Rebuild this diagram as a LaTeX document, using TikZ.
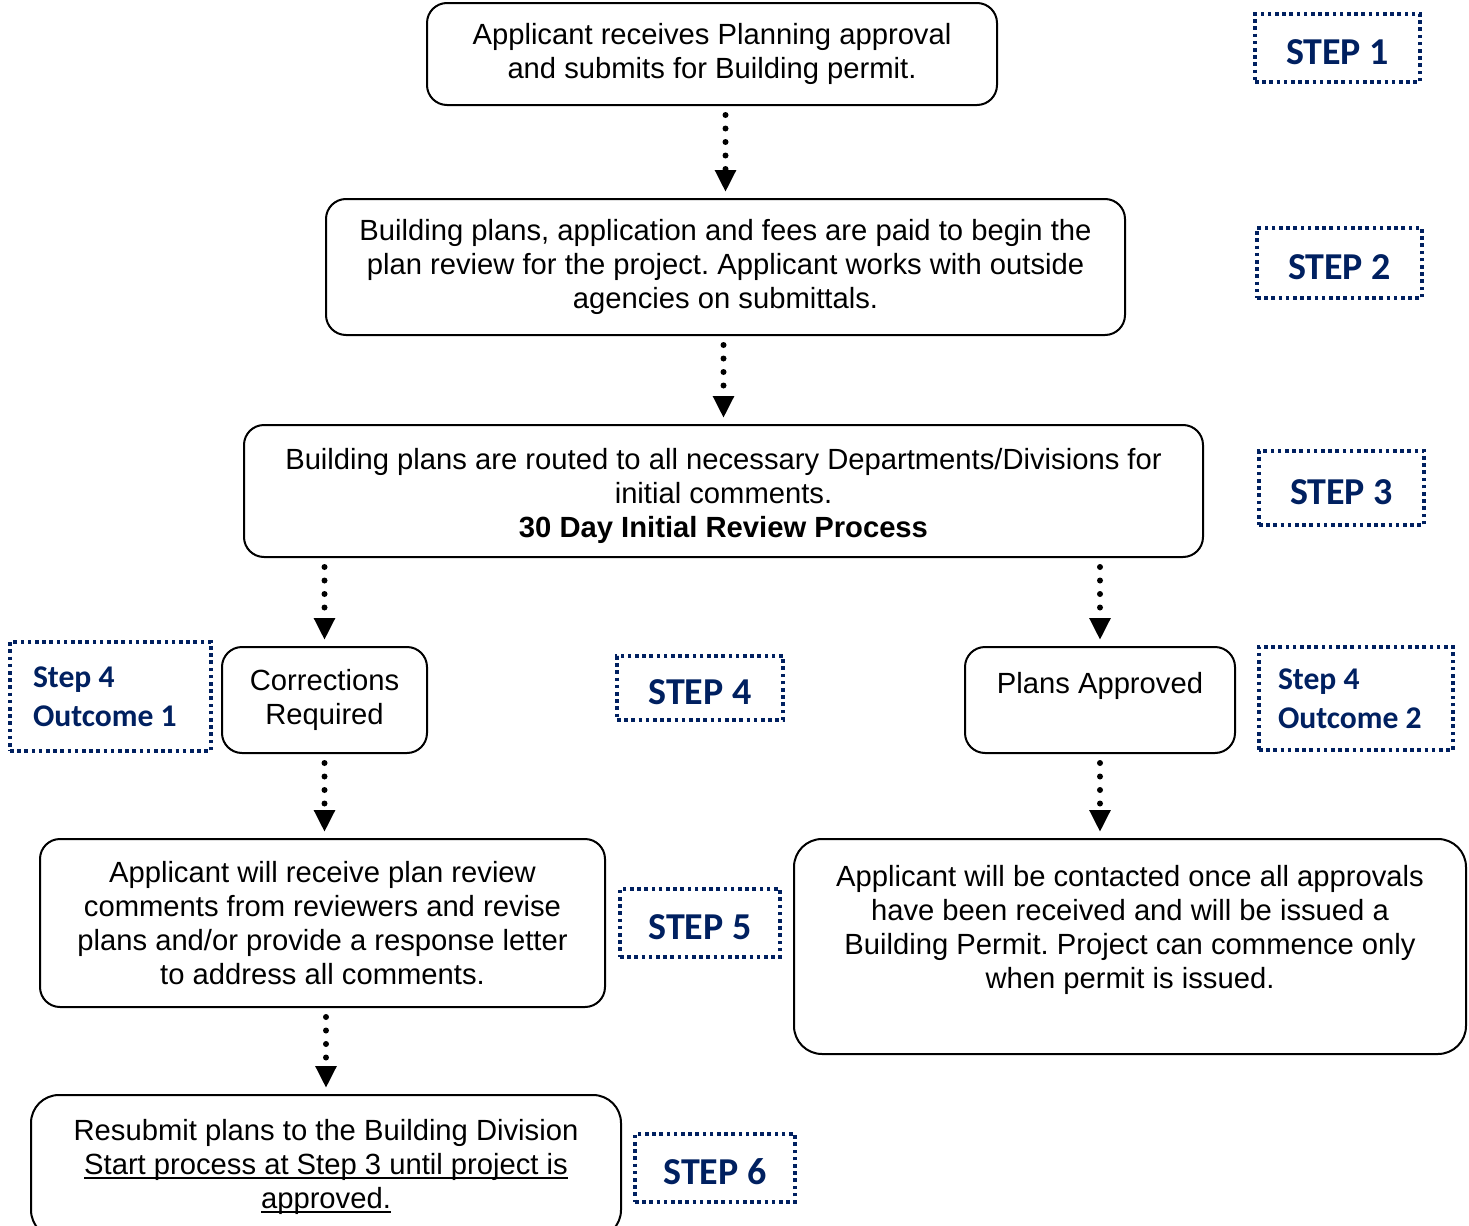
\documentclass[tikz,border=0pt]{standalone}
\usepackage{fontspec}
\setmainfont{Liberation Sans}
\newfontfamily\calib{Carlito}
\usetikzlibrary{arrows.meta}
\definecolor{navy}{HTML}{002060}
\newcommand\myul[1]{\setbox0\hbox{#1}\rlap{\vrule width\wd0 height -1.6pt depth 2.6pt}\box0}
\frenchspacing
\tikzset{
  box/.style={draw=black, line width=1pt, rounded corners=10pt, inner sep=0pt, align=center,
    font=\fontsize{14.6pt}{17pt}\selectfont},
  steplabel/.style={draw=navy, line width=1.6pt, dash pattern=on 1.8pt off 1.8pt, inner sep=0pt,
    text=navy, text height=16.2pt, font=\calib\bfseries\fontsize{19pt}{22pt}\selectfont},
  outlabel/.style={draw=navy, line width=1.6pt, dash pattern=on 1.8pt off 1.8pt, inner sep=0pt,
    text=navy, align=flush left, font=\calib\bfseries\fontsize{15.8pt}{19.5pt}\selectfont},
  flow/.style={line width=3pt, line cap=round, dash pattern=on 0pt off 6.75pt,
    -{Triangle[width=10pt,length=11pt]}, shorten <=4.5pt, shorten >=3pt}
}
\begin{document}
\begin{tikzpicture}[x=0.5pt, y=-0.5pt]
\clip (0,0) rectangle (1469,1226);
% main boxes
\node[box, minimum width=285pt, minimum height=51pt] (b1) at (712,54)
  {Applicant receives Planning approval\\and submits for Building permit.};
\node[box, minimum width=399.5pt, minimum height=68pt] (b2) at (725.5,267)
  {Building plans, application and fees are paid to begin the\\plan review for the project. Applicant works with outside\\agencies on submittals.};
\node[box, minimum width=479.5pt, minimum height=66pt] (b3) at (723.5,491)
  {\\[-1.8pt]Building plans are routed to all necessary Departments/Divisions for\\initial comments.\\\textbf{30 Day Initial Review Process}};
\node[box, minimum width=102.5pt, minimum height=53pt] (corr) at (324.5,700)
  {Corrections\\Required};
\node[box, minimum width=135pt, minimum height=53pt] (pa) at (1100,700)
  {Plans Approved\\~};
\node[box, minimum width=282.5pt, minimum height=84pt] (b5) at (322.5,923)
  {Applicant will receive plan review\\comments from reviewers and revise\\plans and/or provide a response letter\\to address all comments.};
\node[box, minimum width=336pt, minimum height=107.5pt, rounded corners=14pt] (rb) at (1130,946.5)
  {Applicant will be contacted once all approvals\\have been received and will be issued a\\Building Permit. Project can commence only\\when permit is issued.\\[3pt]~};
\node[box, minimum width=295pt, minimum height=71.5pt, rounded corners=14pt] (b6) at (326,1166.5)
  {Resubmit plans to the Building Division\\\myul{Start process at Step 3 until project is}\\\myul{approved.}};
% step labels
\node[steplabel, minimum width=82.5pt, minimum height=34pt] (s1) at (1337.5,48) {STEP 1};
\node[steplabel, minimum width=82.5pt, minimum height=35pt] (s2) at (1339.5,263) {STEP 2};
\node[steplabel, minimum width=82.5pt, minimum height=37pt] (s3) at (1341.5,488) {STEP 3};
\node[outlabel, minimum width=100.5pt, minimum height=54.5pt, text width=77.5pt] (o1) at (110.5,696.5) {Step 4\\Outcome 1};
\node[steplabel, minimum width=83pt, minimum height=32pt] (s4) at (700,688) {STEP 4};
\node[outlabel, minimum width=97pt, minimum height=51.5pt, text width=78pt] (o2) at (1356,698.5) {Step 4\\Outcome 2};
\node[steplabel, minimum width=80pt, minimum height=34pt] (s5) at (700,923) {STEP 5};
\node[steplabel, minimum width=80pt, minimum height=34pt] (s6) at (715,1168) {STEP 6};
% connectors
\draw[flow] (b2.north |- b1.south) -- (b2.north);
\draw[flow] (b2.south -| b3.north) -- (b3.north);
\draw[flow] (b3.south -| corr.north) -- (corr.north);
\draw[flow] (b3.south -| pa.north) -- (pa.north);
\draw[flow] (corr.south) -- (corr.south |- b5.north);
\draw[flow] (pa.south) -- (pa.south |- rb.north);
\draw[flow] (b6.north |- b5.south) -- (b6.north);
\end{tikzpicture}
\end{document}
